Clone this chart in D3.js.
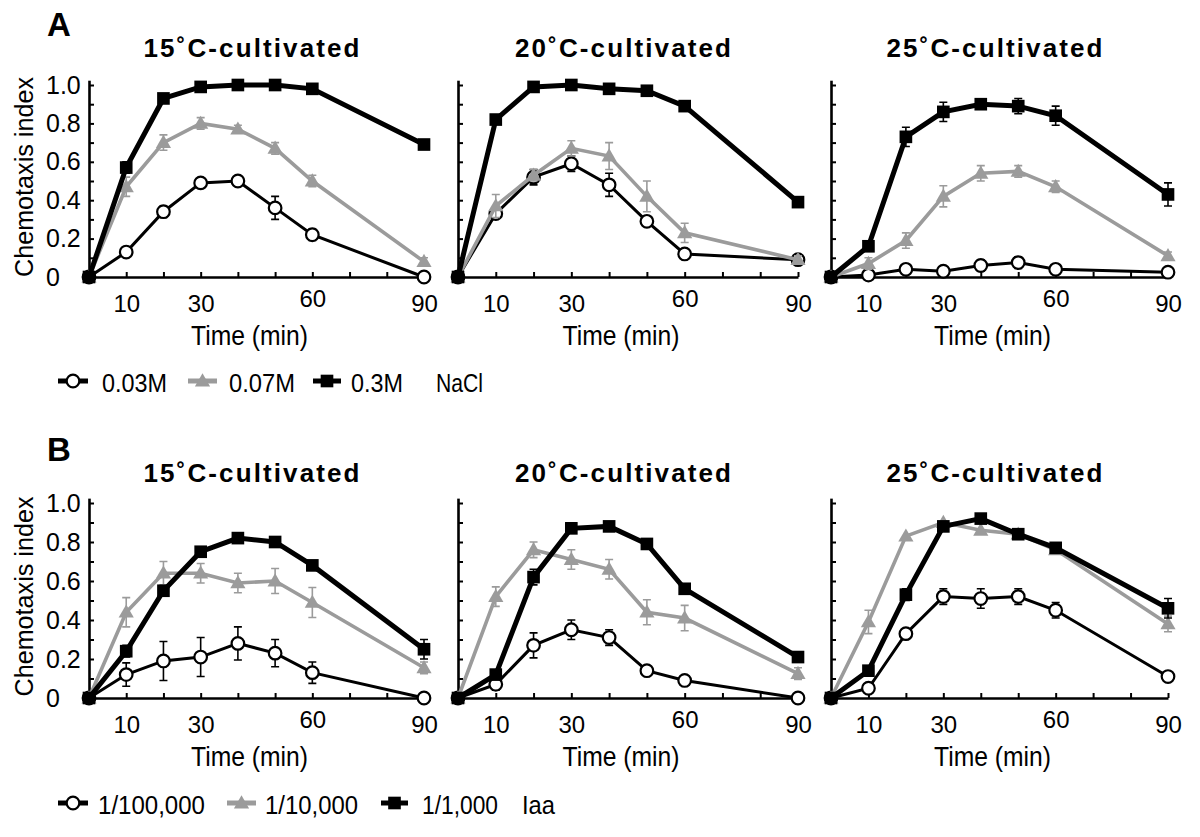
<!DOCTYPE html>
<html><head><meta charset="utf-8">
<script src="https://cdn.jsdelivr.net/npm/d3@7"></script>
<style>
body{margin:0;background:#fff}
svg{display:block}
text{font-family:"Liberation Sans",Arial,Helvetica,sans-serif;fill:#000}
</style>
</head><body>
<svg id="chart" width="1200" height="837"></svg>
<script>
// ---------------- data ----------------
const times = [0, 10, 20, 30, 40, 50, 60, 90];
const xTickValues = [0, 10, 20, 30, 40, 50, 60, 70, 80, 90];
const xTickLabels = [10, 30, 60, 90];
const yTickValues = [0, 0.1, 0.2, 0.3, 0.4, 0.5, 0.6, 0.7, 0.8, 0.9, 1.0];
const yTickLabels = {0: "0", 0.2: "0.2", 0.4: "0.4", 0.6: "0.6", 0.8: "0.8", 1.0: "1.0"};
const panelTitles = ["15\u02DAC-cultivated", "20\u02DAC-cultivated", "25\u02DAC-cultivated"];
const rowLetters = ["A", "B"];
const naclLegend = ["0.03M", "0.07M", "0.3M"];
const naclLegendName = "NaCl";
const iaaLegend = ["1/100,000", "1/10,000", "1/1,000"];
const iaaLegendName = "Iaa";

// Row A: NaCl
const nacl003_15 = [0, 0.13, 0.34, 0.49, 0.50, 0.36, 0.22, 0.00];
const nacl003_15Err = [0, 0.02, 0.03, 0.02, 0.01, 0.06, 0.03, 0.01];
const nacl007_15 = [0, 0.47, 0.70, 0.80, 0.77, 0.67, 0.50, 0.08];
const nacl007_15Err = [0, 0.05, 0.04, 0.03, 0.02, 0.03, 0.03, 0.02];
const nacl03_15 = [0, 0.57, 0.93, 0.99, 1.00, 1.00, 0.98, 0.69];
const nacl03_15Err = [0, 0.03, 0.02, 0.01, 0.01, 0.01, 0.01, 0.02];

const nacl003_20 = [0, 0.33, 0.52, 0.59, 0.48, 0.29, 0.12, 0.09];
const nacl003_20Err = [0, 0.02, 0.04, 0.04, 0.06, 0.02, 0.01, 0.01];
const nacl007_20 = [0, 0.37, 0.53, 0.67, 0.63, 0.42, 0.23, 0.09];
const nacl007_20Err = [0, 0.06, 0.03, 0.04, 0.07, 0.08, 0.05, 0.02];
const nacl03_20 = [0, 0.82, 0.99, 1.00, 0.98, 0.97, 0.89, 0.39];
const nacl03_20Err = [0, 0.02, 0.01, 0.01, 0.01, 0.01, 0.01, 0.02];

const nacl003_25 = [0, 0.01, 0.04, 0.03, 0.06, 0.075, 0.04, 0.025];
const nacl003_25Err = [0, 0.005, 0.02, 0.02, 0.03, 0.03, 0.01, 0.01];
const nacl007_25 = [0, 0.07, 0.19, 0.42, 0.54, 0.55, 0.47, 0.11];
const nacl007_25Err = [0, 0.03, 0.04, 0.055, 0.04, 0.03, 0.03, 0.02];
const nacl03_25 = [0, 0.16, 0.73, 0.86, 0.90, 0.89, 0.84, 0.43];
const nacl03_25Err = [0, 0.02, 0.05, 0.05, 0.025, 0.04, 0.05, 0.06];

// Row B: isoamyl alcohol
const iaa5_15 = [0, 0.12, 0.19, 0.21, 0.28, 0.23, 0.13, 0.00];
const iaa5_15Err = [0, 0.06, 0.10, 0.10, 0.085, 0.07, 0.055, 0.02];
const iaa4_15 = [0, 0.44, 0.64, 0.64, 0.59, 0.60, 0.49, 0.155];
const iaa4_15Err = [0, 0.075, 0.06, 0.05, 0.05, 0.064, 0.077, 0.03];
const iaa3_15 = [0, 0.24, 0.55, 0.75, 0.82, 0.80, 0.68, 0.25];
const iaa3_15Err = [0, 0.03, 0.02, 0.02, 0.01, 0.01, 0.02, 0.05];

const iaa5_20 = [0, 0.07, 0.27, 0.35, 0.31, 0.14, 0.09, 0.00];
const iaa5_20Err = [0, 0.03, 0.064, 0.05, 0.04, 0.02, 0.02, 0.01];
const iaa4_20 = [0, 0.52, 0.76, 0.71, 0.66, 0.44, 0.41, 0.125];
const iaa4_20Err = [0, 0.05, 0.04, 0.05, 0.05, 0.064, 0.065, 0.03];
const iaa3_20 = [0, 0.12, 0.62, 0.87, 0.88, 0.79, 0.56, 0.21];
const iaa3_20Err = [0, 0.02, 0.04, 0.01, 0.01, 0.01, 0.01, 0.01];

const iaa5_25 = [0, 0.05, 0.33, 0.52, 0.51, 0.52, 0.45, 0.11];
const iaa5_25Err = [0, 0.01, 0.01, 0.04, 0.05, 0.04, 0.04, 0.01];
const iaa4_25 = [0, 0.39, 0.83, 0.90, 0.86, 0.84, 0.76, 0.38];
const iaa4_25Err = [0, 0.06, 0.01, 0.01, 0.01, 0.01, 0.02, 0.04];
const iaa3_25 = [0, 0.14, 0.53, 0.88, 0.92, 0.84, 0.77, 0.46];
const iaa3_25Err = [0, 0.01, 0.03, 0.01, 0.01, 0.01, 0.01, 0.05];

// ---------------- layout / style ----------------
const GRAY = "#9b9b9b";
const seriesStyle = [
  {shape: "circle",   color: "#000", width: 3,   err: "#000"},
  {shape: "triangle", color: GRAY,   width: 3.6, err: GRAY},
  {shape: "square",   color: "#000", width: 5,   err: "#000"}
];
const panelX = [[89, 424], [458, 798], [831, 1168]];
const rows = [
  {y0: 277, y1: 85, title: 57, letterY: 36, legendY: 381, legend: naclLegend, legendName: naclLegendName,
   symX: [[58, 88], [188, 217], [313, 341]], textX: [102, 229, 351], textW: [65, 66, 52], nameX: 436, nameW: 47,
   panels: [
     [[nacl003_15, nacl003_15Err], [nacl007_15, nacl007_15Err], [nacl03_15, nacl03_15Err]],
     [[nacl003_20, nacl003_20Err], [nacl007_20, nacl007_20Err], [nacl03_20, nacl03_20Err]],
     [[nacl003_25, nacl003_25Err], [nacl007_25, nacl007_25Err], [nacl03_25, nacl03_25Err]]
   ]},
  {y0: 698, y1: 503, title: 482, letterY: 461, legendY: 803, legend: iaaLegend, legendName: iaaLegendName,
   symX: [[58, 88], [227, 256], [381, 408]], textX: [98, 265, 422], textW: [107, 93, 76], nameX: 522, nameW: 33,
   panels: [
     [[iaa5_15, iaa5_15Err], [iaa4_15, iaa4_15Err], [iaa3_15, iaa3_15Err]],
     [[iaa5_20, iaa5_20Err], [iaa4_20, iaa4_20Err], [iaa3_20, iaa3_20Err]],
     [[iaa5_25, iaa5_25Err], [iaa4_25, iaa4_25Err], [iaa3_25, iaa3_25Err]]
   ]}
];

const svg = d3.select("#chart");

function fitText(sel, w, mode) {
  return sel.attr("textLength", w).attr("lengthAdjust", mode || "spacingAndGlyphs");
}

function drawMarker(g, shape, x, y) {
  if (shape === "circle") {
    g.append("circle").attr("cx", x).attr("cy", y).attr("r", 6.3)
      .attr("fill", "#fff").attr("stroke", "#000").attr("stroke-width", 2.2);
  } else if (shape === "triangle") {
    g.append("path").attr("d", d3.symbol(d3.symbolTriangle, 100)())
      .attr("transform", `translate(${x},${y + 1})`).attr("fill", GRAY);
  } else {
    g.append("path").attr("d", d3.symbol(d3.symbolSquare, 160)())
      .attr("transform", `translate(${x},${y})`).attr("fill", "#000");
  }
}

rows.forEach((row, ri) => {
  // Row letter
  svg.append("text").attr("x", 47).attr("y", row.letterY)
    .attr("font-size", 33).attr("font-weight", "bold").text(rowLetters[ri]);

  const unit = row.y0 - row.y1;
  const y = d3.scaleLinear().domain([0, 1.025]).range([row.y0, row.y0 - unit * 1.025]);

  row.panels.forEach((panel, pi) => {
    const [xl, xr] = panelX[pi];
    const x = d3.scaleLinear().domain([0, 90]).range([xl, xr]);
    const g = svg.append("g");

    // title
    fitText(g.append("text").attr("x", (xl + xr) / 2 - 5).attr("y", row.title)
      .attr("text-anchor", "middle").attr("font-size", 26).attr("font-weight", "bold")
      .text(panelTitles[pi]), 216, "spacing");

    // x axis
    const xAxis = d3.axisBottom(x).tickValues(xTickValues)
      .tickSizeInner(-5).tickSizeOuter(0).tickPadding(18)
      .tickFormat(d => xTickLabels.includes(d) ? String(d) : "");
    const gx = g.append("g").attr("transform", `translate(0,${row.y0})`).call(xAxis);
    gx.select(".domain").attr("stroke", "#000").attr("stroke-width", 2.6);
    gx.selectAll(".tick line").attr("stroke", "#000").attr("stroke-width", 2);
    gx.selectAll(".tick text").attr("font-size", 24).attr("font-family", "Liberation Sans, Arial, sans-serif")
      .attr("fill", "#000").attr("y", d => d === 60 ? 13 : 18);

    // y axis
    const yAxis = d3.axisLeft(y).tickValues(yTickValues)
      .tickSizeInner(-5).tickSizeOuter(0)
      .tickFormat(d => {
        const k = Math.round(d * 10) / 10;
        return pi === 0 && yTickLabels[k] !== undefined ? yTickLabels[k] : "";
      });
    const gy = g.append("g").attr("transform", `translate(${xl},0)`).call(yAxis);
    gy.select(".domain").attr("stroke", "#000").attr("stroke-width", 2.6);
    gy.selectAll(".tick line").attr("stroke", "#000").attr("stroke-width", 2);
    gy.selectAll(".tick text").attr("font-size", 25).attr("font-family", "Liberation Sans, Arial, sans-serif")
      .attr("fill", "#000").attr("text-anchor", "start").attr("x", 46 - xl);

    // axis titles
    fitText(g.append("text").attr("x", (xl + xr) / 2 - 7).attr("y", row.y0 + 68)
      .attr("text-anchor", "middle").attr("font-size", 27).text("Time (min)"), 117);
    if (pi === 0) {
      fitText(g.append("text").attr("transform", `translate(33,${row.y0 - unit / 2 - 4}) rotate(-90)`)
        .attr("text-anchor", "middle").attr("font-size", 25).text("Chemotaxis index"), 200);
    }

    // series
    const line = d3.line().x((d, i) => x(times[i])).y(d => y(d));
    panel.forEach(([vals, errs], si) => {
      const st = seriesStyle[si];
      const sg = g.append("g");
      sg.append("path").attr("d", line(vals)).attr("fill", "none")
        .attr("stroke", st.color).attr("stroke-width", st.width).attr("stroke-linejoin", "miter");
      vals.forEach((v, i) => {
        const e = errs[i];
        if (e > 0.012) {
          const cx = x(times[i]);
          sg.append("path")
            .attr("d", `M${cx},${y(v - e)}V${y(v + e)}M${cx - 4},${y(v - e)}H${cx + 4}M${cx - 4},${y(v + e)}H${cx + 4}`)
            .attr("stroke", st.err).attr("stroke-width", 1.6).attr("fill", "none");
        }
      });
      vals.forEach((v, i) => drawMarker(sg, st.shape, x(times[i]), y(v)));
    });
  });

  // legend
  const lg = svg.append("g");
  row.legend.forEach((lab, si) => {
    const st = seriesStyle[si];
    const [a, b] = row.symX[si];
    lg.append("line").attr("x1", a).attr("x2", b).attr("y1", row.legendY).attr("y2", row.legendY)
      .attr("stroke", st.color).attr("stroke-width", 5);
    drawMarker(lg, st.shape, (a + b) / 2, row.legendY);
    fitText(lg.append("text").attr("x", row.textX[si]).attr("y", row.legendY + 11).attr("font-size", 26).text(lab), row.textW[si]);
  });
  fitText(lg.append("text").attr("x", row.nameX).attr("y", row.legendY + 11).attr("font-size", 26).text(row.legendName), row.nameW);
});
</script>
</body></html>
